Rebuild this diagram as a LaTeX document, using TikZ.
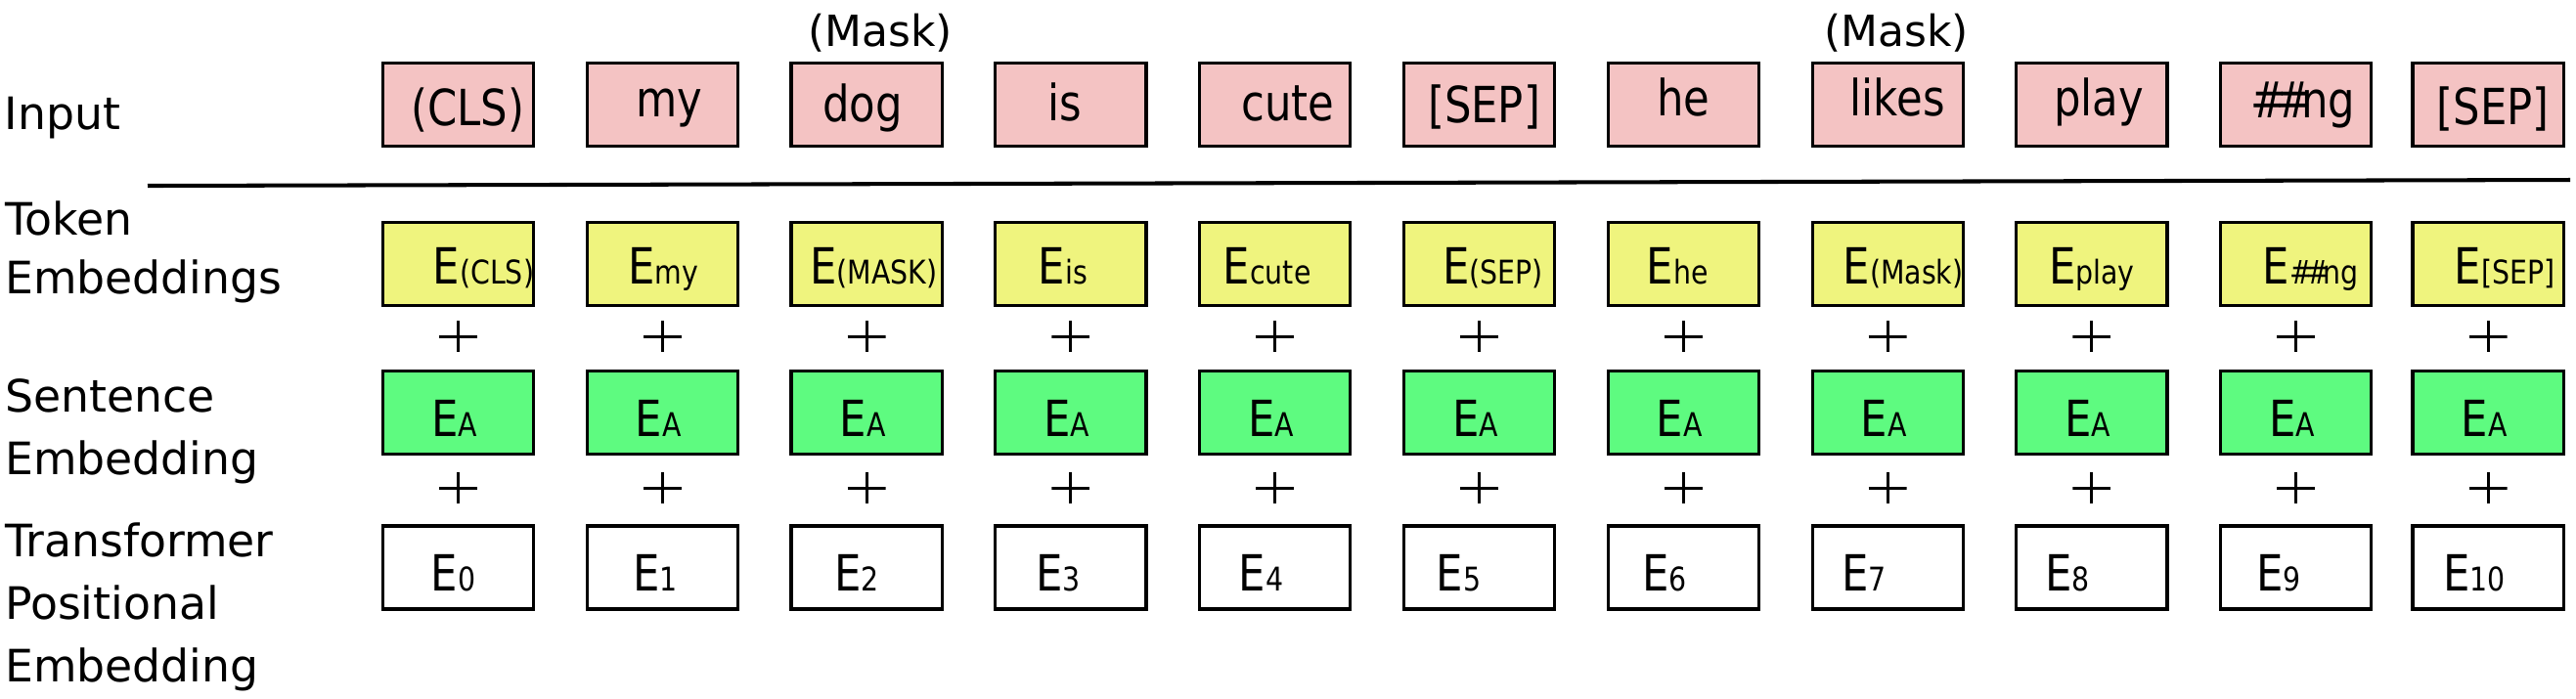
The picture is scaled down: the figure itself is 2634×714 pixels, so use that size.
\documentclass[tikz,border=0pt]{standalone}
\usepackage{fontspec}
\setmainfont{DejaVu Sans}
\newfontfamily\cfont[FakeStretch=0.85]{DejaVu Sans}
\newcommand\Es[1]{{\fontsize{14.5}{14.5}\selectfont E}{\fontsize{9.5}{9.5}\selectfont #1}}
\definecolor{inpink}{RGB}{244,195,195}
\definecolor{tkyellow}{RGB}{239,244,126}
\definecolor{segreen}{RGB}{94,251,128}
\tikzset{
  box/.style={draw=black, line width=0.9pt, minimum width=1.54cm, minimum height=0.85cm, inner sep=0pt, outer sep=0pt},
  inbox/.style={box, fill=inpink},
  tkbox/.style={box, fill=tkyellow},
  sebox/.style={box, fill=segreen},
  pobox/.style={box, fill=white},
  boxtext/.style={inner sep=0pt, anchor=base, font=\cfont\fontsize{14.5}{14.5}\selectfont},
  rowlabel/.style={inner sep=0pt, anchor=base west, font=\fontsize{13}{13}\selectfont},
  masklabel/.style={inner sep=0pt, anchor=base, font=\fontsize{12.5}{12.5}\selectfont},
  plus/.style={minimum width=0.39cm, minimum height=0.32cm, inner sep=0pt,
    path picture={\draw[line width=0.85pt]
      (path picture bounding box.west) -- (path picture bounding box.east)
      (path picture bounding box.north) -- (path picture bounding box.south);}}
}
\begin{document}
\begin{tikzpicture}[x=0.01cm, y=-0.01cm]
\useasboundingbox (0,0) rectangle (2634,714);
% row labels
\node[rowlabel] (lInput) at (4,132) {Input};
\node[rowlabel] (lToken) at (4.5,240) {Token};
\node[rowlabel] (lTokenB) at (4.5,300) {Embeddings};
\node[rowlabel] (lSent) at (4.5,421) {Sentence};
\node[rowlabel] (lSentB) at (4.5,485) {Embedding};
\node[rowlabel] (lPos) at (4.5,569) {Transformer};
\node[rowlabel] (lPosB) at (4.5,633) {Positional};
\node[rowlabel] (lPosC) at (4.5,697) {Embedding};
% mask labels
\node[masklabel] (mask1) at (900,47) {(Mask)};
\node[masklabel] (mask2) at (1939,47) {(Mask)};
% separating rule
\coordinate (ruleL) at (151,190);
\coordinate (ruleR) at (2628,184);
\draw[line width=1.15pt] (ruleL) -- (ruleR);
% input row
\foreach \i/\x/\ox/\yb/\lbl in {0/468.5/10/128/{(CLS)}, 1/677.3/7/119/my, 2/886.1/-4/124/dog, 3/1094.9/-6/123/is, 4/1303.7/13/123/cute, 5/1512.5/5/125/{[SEP]}, 6/1721.3/0/118/he, 7/1930.1/10/118/likes, 8/2138.9/7/118/play, 9/2347.7/7/120/{\#\kern-0.2em\#\kern-0.2em ng}, 10/2544/5/127/{[SEP]}}{
  \node[inbox] (in\i) at (\x,107) {};
  \node[boxtext] (int\i) at ({\x+(\ox)},\yb) {\lbl};
}
% token row
\foreach \i/\x/\ox/\lbl in {0/468.5/26/{(CLS)}, 1/677.3/1/my, 2/886.1/7/{(MASK)}, 3/1094.9/-8/is, 4/1303.7/-8/cute, 5/1512.5/14/{(SEP)}, 6/1721.3/-6/he, 7/1930.1/16/{(Mask)}, 8/2138.9/0/play, 9/2347.7/15/{\#\kern-0.2em\#\kern-0.2em ng}, 10/2544/17/{[SEP]}}{
  \node[tkbox] (tk\i) at (\x,270.3) {};
  \node[boxtext] (tkt\i) at ({\x+(\ox)},290) {\Es{\lbl}};
}
% sentence row
\foreach \i/\x in {0/468.5, 1/677.3, 2/886.1, 3/1094.9, 4/1303.7, 5/1512.5, 6/1721.3, 7/1930.1, 8/2138.9, 9/2347.7, 10/2544}{
  \node[plus] (pa\i) at (\x,344) {};
  \node[sebox] (se\i) at (\x,422) {};
  \node[boxtext] (set\i) at ({\x-4},446.5) {\Es{A}};
  \node[plus] (pb\i) at (\x,499) {};
}
% positional row
\foreach \i/\x/\ox in {0/468.5/-5, 1/677.3/-7, 2/886.1/-10, 3/1094.9/-13, 4/1303.7/-14, 5/1512.5/-21, 6/1721.3/-19, 7/1930.1/-24, 8/2138.9/-25, 9/2347.7/-18, 10/2544/-14}{
  \node[pobox] (po\i) at (\x,580.5) {};
  \node[boxtext] (pot\i) at ({\x+(\ox)},604) {\Es{\i}};
}
\end{tikzpicture}
\end{document}
